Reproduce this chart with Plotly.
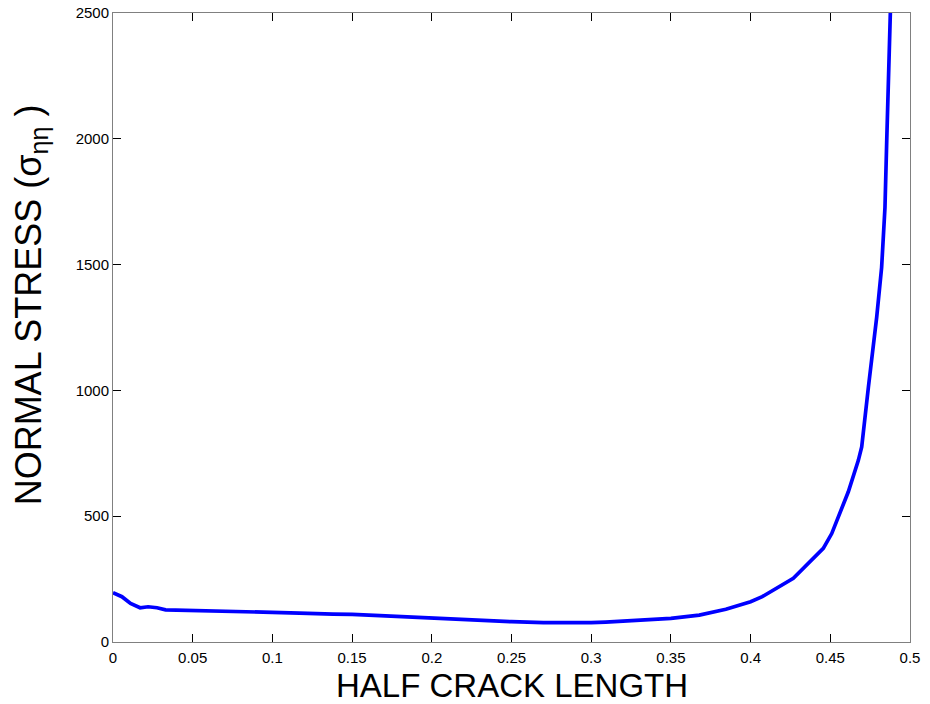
import plotly.graph_objects as go

half_crack_length = [0, 0.0025, 0.0056, 0.011, 0.017, 0.022, 0.0276, 0.033, 0.05, 0.065,
                     0.0756, 0.088, 0.1, 0.117, 0.138, 0.15, 0.1675, 0.184, 0.2, 0.219,
                     0.236, 0.25, 0.27, 0.286, 0.3, 0.309, 0.323, 0.35, 0.3678, 0.3845,
                     0.4, 0.4073, 0.4268, 0.4456, 0.4509, 0.4613, 0.4676, 0.4697, 0.4739,
                     0.4791, 0.4822, 0.4843, 0.4854, 0.4864, 0.4874, 0.489]
normal_stress = [196, 190, 180, 153, 136, 140, 136, 128, 126, 123,
                 120, 120, 118, 115, 111, 110, 104.5, 99, 94, 88.6,
                 82, 80.7, 76.7, 75.4, 76.7, 79, 84.6, 94, 107, 130,
                 160, 180, 253, 372, 431, 597, 722, 775, 1013,
                 1291, 1489, 1727, 1992, 2283, 2495, 2800]

x_ticks = [0, 0.05, 0.1, 0.15, 0.2, 0.25, 0.3, 0.35, 0.4, 0.45, 0.5]
x_tick_labels = ["0", "0.05", "0.1", "0.15", "0.2", "0.25", "0.3", "0.35", "0.4", "0.45", "0.5"]
y_ticks = [0, 500, 1000, 1500, 2000, 2500]
y_tick_labels = ["0", "500", "1000", "1500", "2000", "2500"]

x_title = "HALF CRACK LENGTH"
y_title = "NORMAL STRESS (σ<sub>ηη</sub> )"

FONT = "Liberation Sans, Arial"

fig = go.Figure()
fig.add_trace(go.Scatter(x=half_crack_length, y=normal_stress, mode="lines",
                         line=dict(color="#0000ff", width=3.7), showlegend=False))

axis_common = dict(showgrid=False, zeroline=False, showline=True, linecolor="#808080",
                   linewidth=1, mirror="ticks", ticks="inside", ticklen=8,
                   tickcolor="#000000", tickwidth=1, automargin=False,
                   ticklabeloverflow="allow",
                   tickfont=dict(family=FONT, size=15, color="#000000"))

fig.update_xaxes(range=[0, 0.5], tickvals=x_ticks, ticktext=x_tick_labels,
                 ticklabelstandoff=2, **axis_common)
fig.update_yaxes(range=[0, 2500], tickvals=y_ticks, ticktext=y_tick_labels, **axis_common)

# page body has an 8px margin: plot area lands at page x 113..910, y 13..642
fig.update_layout(width=922, height=696, plot_bgcolor="white", paper_bgcolor="white",
                  margin=dict(l=105, r=20, t=5, b=62, autoexpand=False),
                  annotations=[
                      dict(text=x_title, xref="paper", yref="paper", x=0.5, y=-0.0385,
                           xanchor="center", yanchor="top", showarrow=False, borderpad=0,
                           font=dict(family=FONT, size=33, color="#000000")),
                      dict(text=y_title, xref="paper", yref="paper", x=-0.1035, y=0.536,
                           xanchor="center", yanchor="middle", textangle=-90, showarrow=False,
                           borderpad=0,
                           font=dict(family=FONT, size=36, color="#000000")),
                  ])

fig.write_html("out.html")
